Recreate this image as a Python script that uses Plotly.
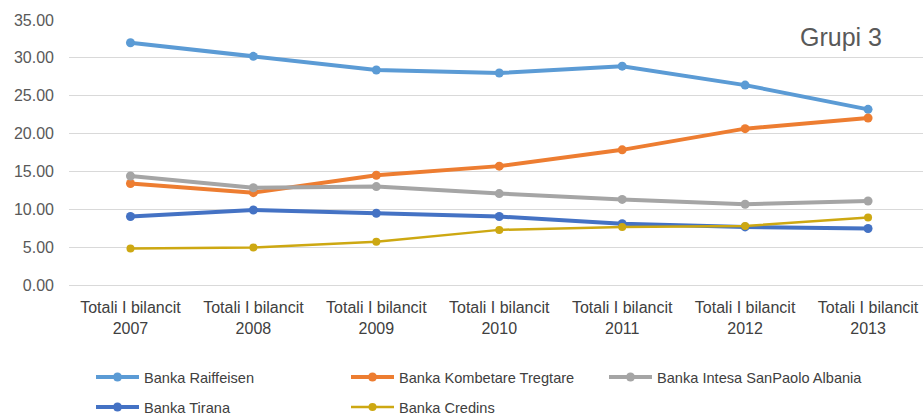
import plotly.graph_objects as go

categories = ["Totali I bilancit<br>2007", "Totali I bilancit<br>2008", "Totali I bilancit<br>2009",
              "Totali I bilancit<br>2010", "Totali I bilancit<br>2011", "Totali I bilancit<br>2012",
              "Totali I bilancit<br>2013"]
raiffeisen = [32.0, 30.2, 28.4, 28.0, 28.9, 26.4, 23.2]
kombetare = [13.4, 12.2, 14.5, 15.7, 17.85, 20.65, 22.05]
intesa = [14.4, 12.85, 13.0, 12.07, 11.3, 10.66, 11.1]
tirana = [9.04, 9.9, 9.47, 9.04, 8.1, 7.67, 7.46]
credins = [4.83, 4.96, 5.7, 7.28, 7.67, 7.8, 8.9]
y_ticks = [0, 5, 10, 15, 20, 25, 30, 35]

FONT = "Liberation Sans, Arial, sans-serif"

# (name, values, colour, line width, marker size, legend id, legend x px, legend centre y px)
series = [
    ("Banka Raiffeisen", raiffeisen, "#5B9BD5", 4, 9, "legend", 91, 377),
    ("Banka Kombetare Tregtare", kombetare, "#ED7D31", 4, 9, "legend2", 346, 377),
    ("Banka Intesa SanPaolo Albania", intesa, "#A5A5A5", 4, 9, "legend3", 604, 377),
    ("Banka Tirana", tirana, "#4472C4", 4, 9, "legend4", 91, 407),
    ("Banka Credins", credins, "#CDA812", 2.5, 8, "legend5", 346, 407),
]

L, T, B = 69, 20, 131
W, H = 923, 416
PW, PH = W - L, H - T - B

fig = go.Figure()
legends = {}
for name, vals, color, lw, ms, lg, lx, ly in series:
    fig.add_trace(go.Scatter(
        x=list(range(len(categories))), y=vals, name=name, mode="lines+markers",
        line=dict(color=color, width=lw), marker=dict(color=color, size=ms),
        legend=lg, showlegend=True,
    ))
    legends[lg] = dict(
        orientation="h", xanchor="left", yanchor="middle",
        x=(lx - L) / PW, y=(H - B - ly) / PH,
        font=dict(family=FONT, size=14.6, color="#404040"),
        itemwidth=43, bgcolor="rgba(0,0,0,0)", visible=True,
    )

fig.update_layout(
    width=W, height=H, showlegend=True,
    margin=dict(l=L, r=0, t=T, b=B, autoexpand=False),
    plot_bgcolor="white", paper_bgcolor="white",
    xaxis=dict(
        tickmode="array", tickvals=list(range(len(categories))), ticktext=categories,
        range=[-0.5, 6.447], showgrid=False, zeroline=False, showline=False,
        tickfont=dict(family=FONT, size=16, color="#404040"),
        ticklabelstandoff=11,
    ),
    yaxis=dict(
        range=[0, 35], tickvals=y_ticks, ticktext=[f"{v:.2f}" for v in y_ticks],
        showgrid=True, gridcolor="#D9D9D9", gridwidth=1,
        zeroline=True, zerolinecolor="#D9D9D9", zerolinewidth=1,
        showline=False, tickfont=dict(family=FONT, size=16, color="#595959"),
        ticklabelstandoff=14,
    ),
    annotations=[dict(
        text="Grupi 3", xref="paper", yref="paper", x=(841 - L) / PW, y=(H - B - 37) / PH,
        xanchor="center", yanchor="middle", showarrow=False,
        font=dict(family=FONT, size=25, color="#595959"),
    )],
    **legends,
)

fig.write_html("out.html", config={"displayModeBar": False})
with open("out.html", encoding="utf-8") as f:
    html = f.read()
html = html.replace("<body>", '<body style="margin:0;padding:0;overflow:hidden">', 1)
with open("out.html", "w", encoding="utf-8") as f:
    f.write(html)
